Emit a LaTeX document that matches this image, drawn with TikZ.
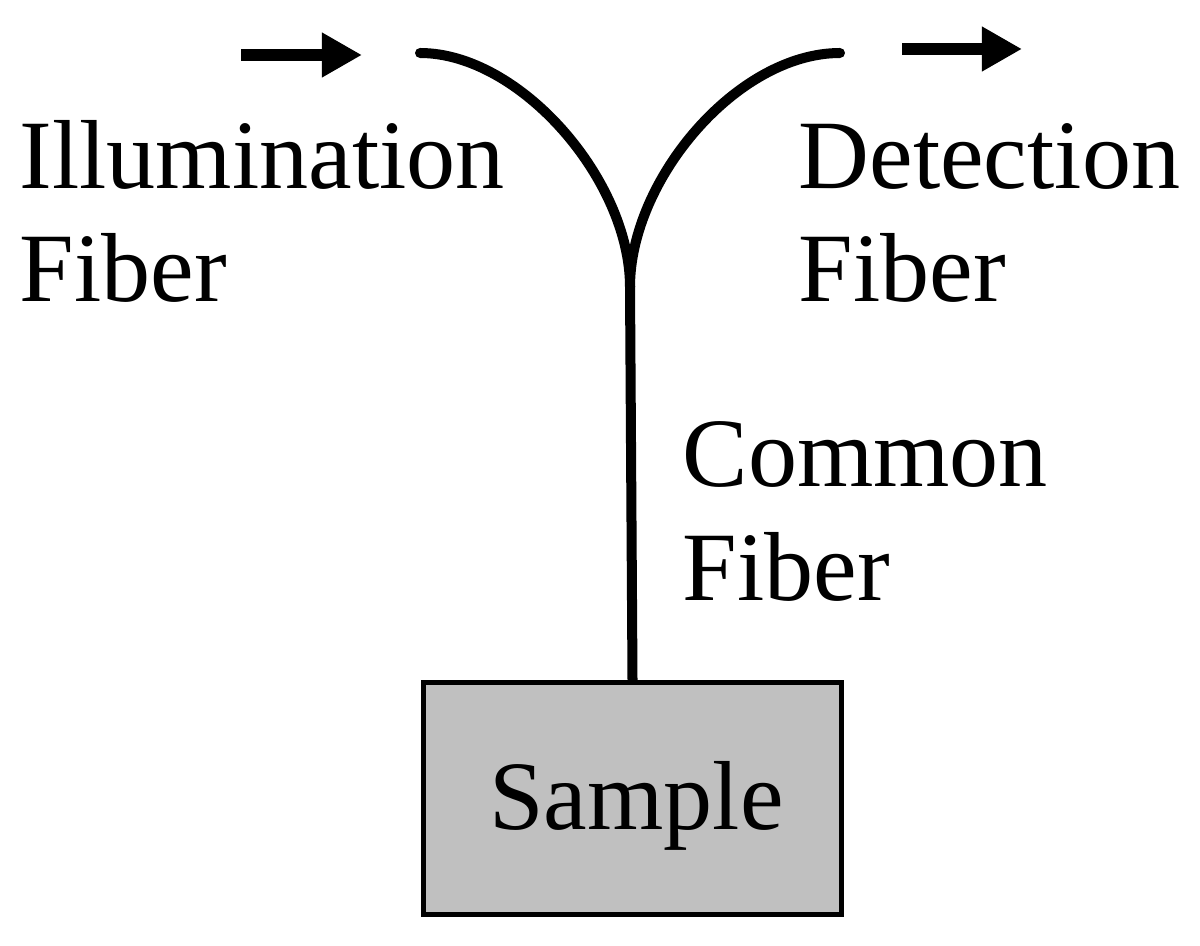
\documentclass[tikz,border=0pt]{standalone}
\usepackage{fontspec}
\setmainfont{Liberation Serif}
\usetikzlibrary{arrows.meta}
\definecolor{samplegray}{HTML}{C0C0C0}
\tikzset{
  fiber/.style={line width=0.1cm, line cap=round, black},
  flowarrow/.style={line width=0.12cm, -{Triangle[length=0.4cm,width=0.42cm]}},
  lbl/.style={inner sep=0pt, anchor=base west, align=left, font=\fontsize{27.9pt}{32.2pt}\selectfont},
  samplebox/.style={draw=black, line width=0.05cm, fill=samplegray, minimum width=4.18cm, minimum height=2.32cm, inner sep=0pt},
}
\begin{document}
\begin{tikzpicture}[x=0.01cm, y=-0.01cm]
\useasboundingbox (0,0) rectangle (1200,946);
% arrows
\coordinate (ilA) at (241,55);
\coordinate (ilB) at (362,55);
\coordinate (deA) at (902,49);
\coordinate (deB) at (1022,49);
\draw[flowarrow] (ilA) -- (ilB);
\draw[flowarrow] (deA) -- (deB);
% fibers
\coordinate (illumEnd) at (420,53);
\coordinate (detEnd) at (840,53);
\coordinate (junction) at (630,287);
\node[samplebox] (sample) at (632.5,798.5) {};
\node[inner sep=0pt, anchor=base, font=\fontsize{27.9pt}{32.2pt}\selectfont] (sampletext) at (636.5,829) {Sample};
\draw[fiber] (illumEnd) .. controls (520,53) and (630,180) .. (junction);
\draw[fiber] (detEnd) .. controls (737,53) and (630,180) .. (junction);
\draw[fiber] (junction) -- (sample.north);
% labels (anchor = baseline of the last line)
\node[lbl] (illum) at (19,302) {Illumination\\Fiber};
\node[lbl] (detect) at (798,302) {Detection\\Fiber};
\node[lbl] (common) at (682,600) {Common\\Fiber};
\end{tikzpicture}
\end{document}
